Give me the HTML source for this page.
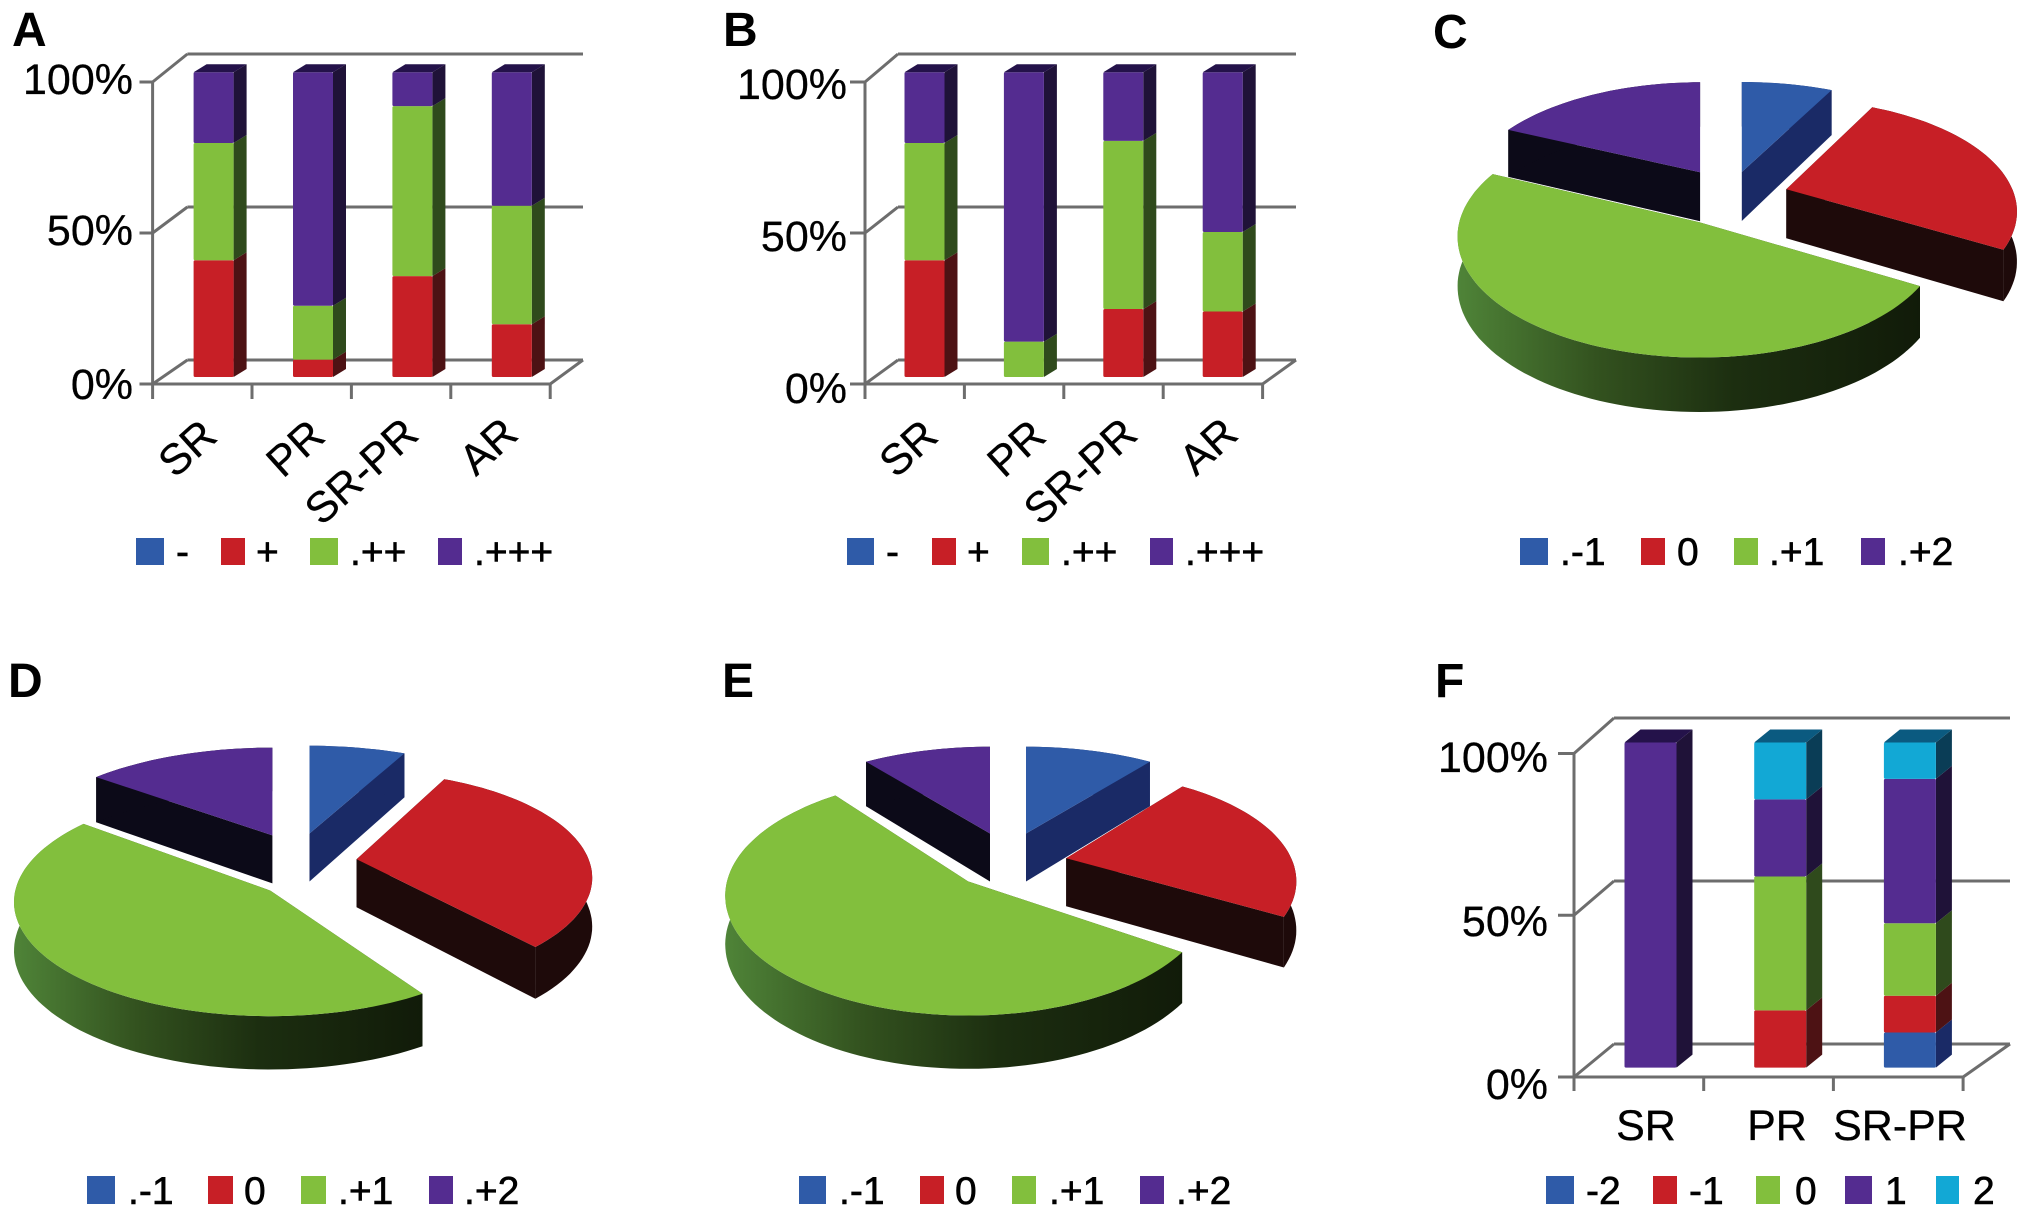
<!DOCTYPE html>
<html lang="en">
<head>
<meta charset="utf-8">
<title>Stacked 3D bar and exploded pie panels</title>
<style>
html,body{margin:0;padding:0;background:#fff;}
svg{display:block;font-family:"Liberation Sans",Arial,sans-serif;}
.panel-letter{font-size:48px;font-weight:700;fill:#000;}
.leg{font-size:39px;fill:#000;stroke:#000;stroke-width:.6px;}
.tick{font-size:43px;fill:#000;stroke:#000;stroke-width:.3px;}
</style>
</head>
<body>
<svg id="figure" xmlns="http://www.w3.org/2000/svg" width="2031" height="1215" viewBox="0 0 2031 1215">
<defs>
<linearGradient id="green-side" x1="0" y1="0" x2="1" y2="0">
<stop offset="0" stop-color="#4f8438"/>
<stop offset=".3" stop-color="#33521f"/>
<stop offset=".6" stop-color="#1c2e10"/>
<stop offset="1" stop-color="#111b09"/>
</linearGradient>
</defs>
<rect width="2031" height="1215" fill="#fff"/>

<text class="panel-letter" x="12" y="46">A</text>
<text class="panel-letter" x="723" y="46">B</text>
<text class="panel-letter" x="1433" y="48">C</text>
<text class="panel-letter" x="8" y="697">D</text>
<text class="panel-letter" x="722" y="697">E</text>
<text class="panel-letter" x="1435" y="697">F</text>

<g id="panel-a"></g>
<g id="panel-b"></g>
<g id="panel-c"></g>
<g id="panel-d"></g>
<g id="panel-e"></g>
<g id="panel-f"></g>

<g>
<rect x="136" y="538" width="28" height="27" fill="#2f5ba8"/>
<text class="leg" x="176" y="565">-</text>
<rect x="221" y="538" width="24" height="27" fill="#c71f26"/>
<text class="leg" x="256" y="565">+</text>
<rect x="310" y="538" width="28" height="27" fill="#82bf3d"/>
<text class="leg" x="350" y="565">.++</text>
<rect x="438" y="538" width="24" height="27" fill="#542c90"/>
<text class="leg" x="474" y="565">.+++</text>
</g>
<g>
<rect x="847" y="538" width="27" height="27" fill="#2f5ba8"/>
<text class="leg" x="886" y="565">-</text>
<rect x="932" y="538" width="24" height="27" fill="#c71f26"/>
<text class="leg" x="967" y="565">+</text>
<rect x="1022" y="538" width="27" height="27" fill="#82bf3d"/>
<text class="leg" x="1061" y="565">.++</text>
<rect x="1150" y="538" width="23" height="27" fill="#542c90"/>
<text class="leg" x="1185" y="565">.+++</text>
</g>
<g>
<rect x="1520" y="538" width="28" height="27" fill="#2f5ba8"/>
<text class="leg" x="1560" y="565">.-1</text>
<rect x="1641" y="538" width="24" height="27" fill="#c71f26"/>
<text class="leg" x="1677" y="565">0</text>
<rect x="1734" y="538" width="24" height="27" fill="#82bf3d"/>
<text class="leg" x="1769" y="565">.+1</text>
<rect x="1861" y="538" width="24" height="27" fill="#542c90"/>
<text class="leg" x="1898" y="565">.+2</text>
</g>
<g>
<rect x="87" y="1176" width="28" height="28" fill="#2f5ba8"/>
<text class="leg" x="128" y="1204">.-1</text>
<rect x="208" y="1176" width="25" height="28" fill="#c71f26"/>
<text class="leg" x="244" y="1204">0</text>
<rect x="301" y="1176" width="25" height="28" fill="#82bf3d"/>
<text class="leg" x="338" y="1204">.+1</text>
<rect x="429" y="1176" width="24" height="28" fill="#542c90"/>
<text class="leg" x="464" y="1204">.+2</text>
</g>
<g>
<rect x="799" y="1176" width="27" height="28" fill="#2f5ba8"/>
<text class="leg" x="839" y="1204">.-1</text>
<rect x="920" y="1176" width="24" height="28" fill="#c71f26"/>
<text class="leg" x="955" y="1204">0</text>
<rect x="1012" y="1176" width="24" height="28" fill="#82bf3d"/>
<text class="leg" x="1049" y="1204">.+1</text>
<rect x="1140" y="1176" width="24" height="28" fill="#542c90"/>
<text class="leg" x="1176" y="1204">.+2</text>
</g>
<g>
<rect x="1546" y="1176" width="28" height="28" fill="#2f5ba8"/>
<text class="leg" x="1586" y="1204">-2</text>
<rect x="1653" y="1176" width="24" height="28" fill="#c71f26"/>
<text class="leg" x="1689" y="1204">-1</text>
<rect x="1756" y="1176" width="24" height="28" fill="#82bf3d"/>
<text class="leg" x="1795" y="1204">0</text>
<rect x="1845" y="1176" width="27" height="28" fill="#542c90"/>
<text class="leg" x="1885" y="1204">1</text>
<rect x="1936" y="1176" width="23" height="28" fill="#12a8d5"/>
<text class="leg" x="1973" y="1204">2</text>
</g>
</svg>

<script>
// ---------- Shared tick data ----------
const yTickValues = [0, 50, 100];
const yTickLabels = ['0%', '50%', '100%'];

// ---------- Panel A values (percent) ----------
const catsA = ['SR', 'PR', 'SR-PR', 'AR'];
const aMinus = [0, 0, 0, 0];
const aPlus = [38.3, 5.7, 33.1, 17.3];
const aPlusPlus = [38.5, 17.7, 55.8, 38.9];
const aTriplePlus = [23.2, 76.6, 11.1, 43.8];

// ---------- Panel B values (percent) ----------
const catsB = ['SR', 'PR', 'SR-PR', 'AR'];
const bMinus = [0, 0, 0, 0];
const bPlus = [38.3, 0, 22.3, 21.5];
const bPlusPlus = [38.5, 11.6, 55.2, 26.1];
const bTriplePlus = [23.2, 88.4, 22.5, 52.4];

// ---------- Panel F values (percent) ----------
const catsF = ['SR', 'PR', 'SR-PR'];
const fMinus2 = [0, 0, 10.8];
const fMinus1 = [0, 17.6, 11.3];
const fZero = [0, 41.2, 22.3];
const fOne = [100, 23.7, 44.4];
const fTwo = [0, 17.5, 11.2];

// ---------- Pie values (percent): -1, 0, +1, +2 ----------
const pieC = [7.4, 26.0, 48.6, 18.0];
const pieD = [7.2, 32.2, 46.4, 14.2];
const pieE = [10.3, 23.6, 55.8, 10.3];

// ---------- Palettes ----------
const barColors = {
  blue:   {front:'#2f5ba8', side:'#1a2a66', top:'#1a2a66'},
  red:    {front:'#c71f26', side:'#4d1214', top:'#4d1214'},
  green:  {front:'#82bf3d', side:'#2f4a1c', top:'#2f4a1c'},
  purple: {front:'#542c90', side:'#1f1238', top:'#24124a'},
  cyan:   {front:'#12a8d5', side:'#0a3d56', top:'#0b5a80'}
};
const pieStyles = [
  {top:'#2f5ba8', side:'#1a2a66', name:'minus-1'},
  {top:'#c71f26', side:'#1e0a0a', name:'0'},
  {top:'#82bf3d', side:'url(#green-side)', name:'plus-1'},
  {top:'#542c90', side:'#0c0a18', name:'plus-2'}
];

const NS = 'http://www.w3.org/2000/svg';
function svgEl(tag, parent) {
  const e = document.createElementNS(NS, tag);
  parent.appendChild(e);
  return e;
}
function setAttrs(e, attrs) {
  for (const k in attrs) e.setAttribute(k, attrs[k]);
}
function polyPath(pts) {
  return 'M' + pts.map(p => p[0].toFixed(1) + ' ' + p[1].toFixed(1)).join('L') + 'Z';
}

function gridLine(g, x1, y1, x2, y2, name) {
  const l = svgEl('line', g);
  
  
  setAttrs(l, {x1, y1, x2, y2, stroke:'#6d6d6d', 'stroke-width':3});
}

function drawBars(panelId, cfg, cats, series) {
  const g = document.getElementById(panelId);
  const yAxis = v => cfg.y0 + (cfg.y100 - cfg.y0) * v / 100;
  const yBack = v => cfg.backY0 + (cfg.backY100 - cfg.backY0) * v / 100;
  const barY = v => cfg.barBottom + (cfg.barTop - cfg.barBottom) * v / 100;
  const xBand = i => cfg.x0 + cfg.step * i;

  // walls and gridlines
  yTickValues.forEach((v, i) => {
    gridLine(g, cfg.tickLeft, yAxis(v), cfg.x0, yAxis(v), 'y-tick-mark');
    gridLine(g, cfg.x0, yAxis(v), cfg.backX, yBack(v), 'wall-diagonal');
    gridLine(g, cfg.backX, yBack(v), cfg.backRight, yBack(v), 'back-gridline');
    const t = svgEl('text', g);
    
    
    setAttrs(t, {x:cfg.labelRight, y:cfg.labelBase[i], 'text-anchor':'end', class:'tick'});
    t.textContent = yTickLabels[i];
  });
  const xEnd = xBand(cats.length);
  gridLine(g, cfg.x0, yAxis(100), cfg.x0, cfg.tickBottom, 'y-axis-line');
  gridLine(g, cfg.x0, yAxis(0), xEnd, yAxis(0), 'x-axis-line');
  gridLine(g, xEnd, yAxis(0), cfg.backRight, yBack(0), 'floor-diagonal');
  for (let i = 1; i <= cats.length; i++) {
    gridLine(g, xBand(i), yAxis(0), xBand(i), cfg.tickBottom, 'x-tick-mark');
  }

  // bars
  cats.forEach((cat, i) => {
    const x = xBand(i) + cfg.barOffset;
    let cum = 0;
    let lastColor = null;
    series.forEach(s => {
      const val = s.values[i];
      if (val <= 0) return;
      const yb = barY(cum), yt = barY(cum + val);
      const c = barColors[s.color];
      const side = svgEl('path', g);
      
      
      setAttrs(side, {d:polyPath([[x + cfg.barW, yb], [x + cfg.barW + cfg.dx, yb - cfg.dy], [x + cfg.barW + cfg.dx, yt - cfg.dy], [x + cfg.barW, yt]]), fill:c.side});
      const front = svgEl('rect', g);
      
      
      setAttrs(front, {x:x, y:yt, width:cfg.barW, height:yb - yt, rx:1.5, fill:c.front});
      cum += val;
      lastColor = c;
    });
    const yt = barY(cum);
    const top = svgEl('path', g);
    
    
    setAttrs(top, {d:polyPath([[x, yt], [x + cfg.dx, yt - cfg.dy], [x + cfg.barW + cfg.dx, yt - cfg.dy], [x + cfg.barW, yt]]), fill:lastColor ? lastColor.top : 'none'});

    // category label
    const t = svgEl('text', g);
    
    
    const p = cfg.catLabels[i];
    const attrs = {'text-anchor':'middle', class:'tick'};
    if (cfg.rotate) {
      attrs.transform = 'translate(' + p[0] + ' ' + p[1] + ') rotate(' + cfg.rotate + ')';
      attrs.y = 15;
    } else {
      attrs.x = p[0];
      attrs.y = p[1];
    }
    setAttrs(t, attrs);
    t.textContent = cat;
  });
}

function drawPie(panelId, cfg, values) {
  const g = document.getElementById(panelId);
  const total = values.reduce((a, b) => a + b, 0);
  const toAngle = v => v / total * 2 * Math.PI;
  const deg = Math.PI / 180;
  const project = (apex, th, i) => {
    const u = Math.sin(th), v = Math.cos(th);
    const s = 1 / (1 + cfg.k[i] * v);
    return {x: apex[0] + cfg.R[i] * u * s, y: apex[1] - cfg.Ry[i] * v * s, v: v};
  };
  const dropAt = v => cfg.h / (1 + 0.1 * v);

  let start = 0;
  const slices = values.map((val, i) => {
    const a0 = start, a1 = start + toAngle(val);
    start = a1;
    return {i, a0: a0 + cfg.startTrim[i] * deg, a1: a1 + cfg.endTrim[i] * deg, apex: cfg.apex[i], style: pieStyles[i]};
  });
  slices.sort((p, q) => p.apex[1] - q.apex[1]);

  slices.forEach(sl => {
    const n = Math.max(8, Math.ceil((sl.a1 - sl.a0) / (Math.PI / 90)));
    const arc = [];
    for (let j = 0; j <= n; j++) arc.push(project(sl.apex, sl.a0 + (sl.a1 - sl.a0) * j / n, sl.i));
    const ax = sl.apex[0], ay = sl.apex[1];
    const first = arc[0], last = arc[arc.length - 1];
    const sideFill = sl.style.side;
    const wallFill = sl.i === 2 ? '#1a2a0e' : sideFill;

    const wallA = svgEl('path', g);
    
    
    setAttrs(wallA, {d:polyPath([[ax, ay], [first.x, first.y], [first.x, first.y + dropAt(first.v)], [ax, ay + cfg.h]]), fill:wallFill});

    const wallB = svgEl('path', g);
    
    
    setAttrs(wallB, {d:polyPath([[ax, ay], [last.x, last.y], [last.x, last.y + dropAt(last.v)], [ax, ay + cfg.h]]), fill:wallFill});

    const band = svgEl('path', g);
    
    
    const bandPts = arc.map(p => [p.x, p.y]).concat(arc.slice().reverse().map(p => [p.x, p.y + dropAt(p.v)]));
    setAttrs(band, {d:polyPath(bandPts), fill:sideFill});

    const top = svgEl('path', g);
    
    
    setAttrs(top, {d:polyPath([[ax, ay]].concat(arc.map(p => [p.x, p.y]))), fill:sl.style.top});
  });
}

// ---------- Layouts ----------
const layoutA = {x0:152.6, step:99.4, y0:384, y100:82, backX:187.4, backRight:583, backY0:360, backY100:54,
  tickLeft:139.5, tickBottom:399, barOffset:41, barW:40, dx:13, dy:8, barBottom:377, barTop:72.3,
  labelRight:133, labelBase:[399, 245, 94], rotate:-42,
  catLabels:[[187, 448], [295, 448], [361, 471], [488, 446]]};
const layoutB = {x0:865, step:99.4, y0:384, y100:82, backX:898, backRight:1296, backY0:360, backY100:54,
  tickLeft:850, tickBottom:399, barOffset:39.5, barW:40, dx:13, dy:8, barBottom:377, barTop:72.3,
  labelRight:847, labelBase:[403, 251, 99], rotate:-42,
  catLabels:[[908, 448], [1016, 448], [1080, 471], [1208, 446]]};
const layoutF = {x0:1574, step:129.7, y0:1077, y100:753.5, backX:1614, backRight:2010, backY0:1044, backY100:718,
  tickLeft:1558, tickBottom:1091, barOffset:50.5, barW:52, dx:16, dy:13, barBottom:1067.6, barTop:742.5,
  labelRight:1548, labelBase:[1099, 936, 772], rotate:0,
  catLabels:[[1646, 1140], [1777, 1140], [1900, 1140]]};

const layoutC = {h:49,
  R:[236, 226, 240, 230], Ry:[108, 108, 119, 108], k:[0.2, 0.2, 0.12, 0.2],
  startTrim:[0, 0, 0, 0], endTrim:[0, 0, 0, 0],
  apex:[[1741.8, 172], [1786.3, 189.2], [1699.3, 222.3], [1700.1, 172.3]]};
const layoutD = {h:48,
  R:[251, 232, 255, 251], Ry:[103, 103, 113, 103], k:[0.174, 0.174, 0.1, 0.174],
  startTrim:[0, 0, 5, 0], endTrim:[0, -4, 0, 0],
  apex:[[309.5, 833.5], [356.6, 859.3], [270.3, 890.6], [272.4, 835.4]]};
const layoutE = {h:48,
  R:[240, 225, 241, 240], Ry:[105, 105, 118, 105], k:[0.21, 0.21, 0.12, 0.21],
  startTrim:[0, 0, 2, 0], endTrim:[0, -2, 0, 0],
  apex:[[1026, 833.5], [1066.2, 858.2], [968, 881.4], [990, 833.5]]};

// ---------- Render ----------
drawBars('panel-a', layoutA, catsA, [
  {name:'minus', color:'blue', values:aMinus},
  {name:'plus', color:'red', values:aPlus},
  {name:'plus-plus', color:'green', values:aPlusPlus},
  {name:'triple-plus', color:'purple', values:aTriplePlus}
]);
drawBars('panel-b', layoutB, catsB, [
  {name:'minus', color:'blue', values:bMinus},
  {name:'plus', color:'red', values:bPlus},
  {name:'plus-plus', color:'green', values:bPlusPlus},
  {name:'triple-plus', color:'purple', values:bTriplePlus}
]);
drawBars('panel-f', layoutF, catsF, [
  {name:'minus-2', color:'blue', values:fMinus2},
  {name:'minus-1', color:'red', values:fMinus1},
  {name:'0', color:'green', values:fZero},
  {name:'1', color:'purple', values:fOne},
  {name:'2', color:'cyan', values:fTwo}
]);
drawPie('panel-c', layoutC, pieC);
drawPie('panel-d', layoutD, pieD);
drawPie('panel-e', layoutE, pieE);
</script>
</body>
</html>
